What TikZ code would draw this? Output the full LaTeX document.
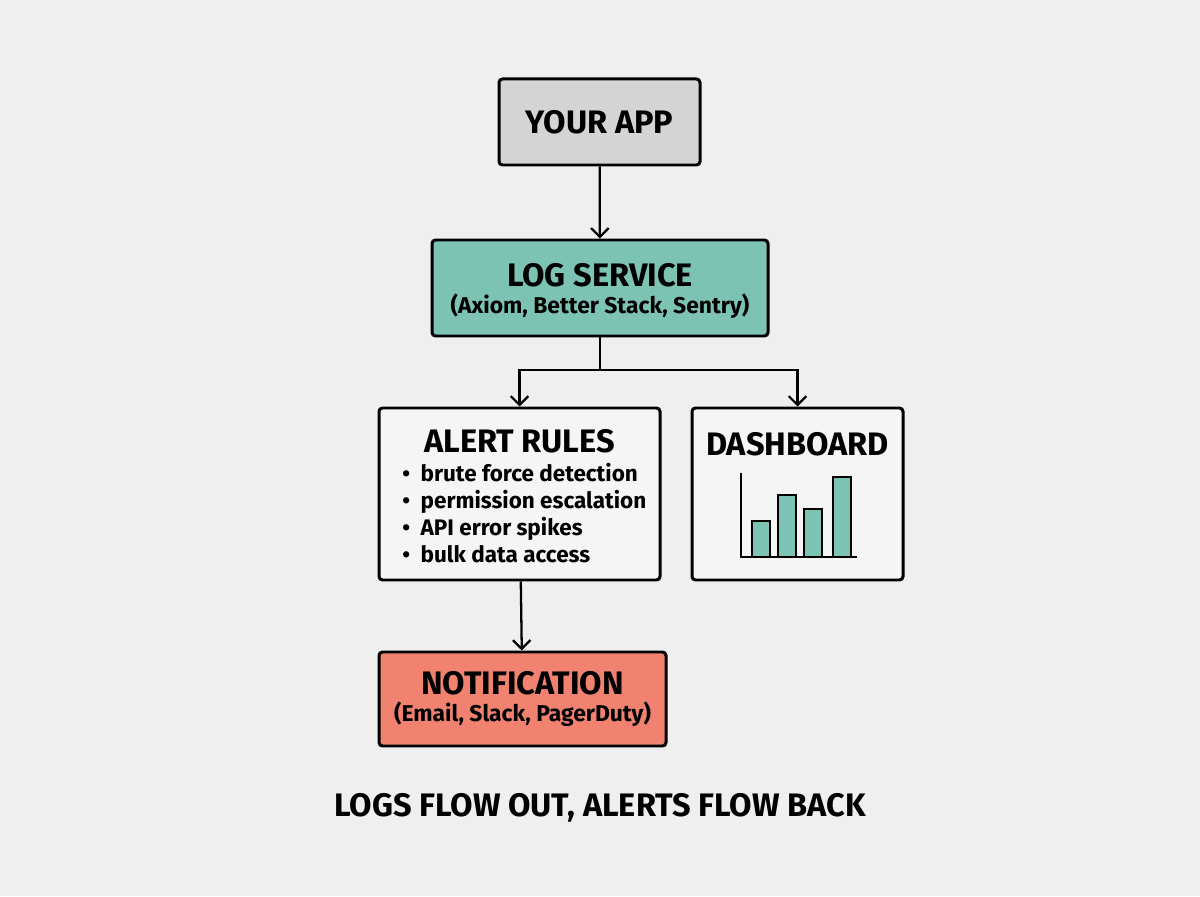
\documentclass[tikz,border=0pt]{standalone}
\usepackage{fontspec}
\setmainfont{Fira Sans}
\usetikzlibrary{arrows.meta}
\definecolor{paper}{HTML}{EFEFEF}
\definecolor{appgray}{HTML}{D4D4D4}
\definecolor{logteal}{HTML}{7DC3B4}
\definecolor{alertred}{HTML}{F0826F}
\definecolor{boxwhite}{HTML}{F5F5F5}
\tikzset{
  stagebox/.style={draw=black, line width=1.7pt, rounded corners=2pt, inner sep=0pt, align=center},
  flow/.style={line width=1.3pt, -{Straight Barb[length=5pt, width=10pt, line width=1.3pt]}},
  bigtxt/.style={font=\fontsize{18.5}{20}\selectfont\bfseries},
  smalltxt/.style={font=\fontsize{13}{15.3}\selectfont\bfseries}
}
\begin{document}
\begin{tikzpicture}
  \fill[paper] (0, 0) rectangle (24, 17.92);
  \useasboundingbox (0, 0) rectangle (24, 17.92);
  % boxes
  \node[stagebox, fill=appgray, minimum width=4.02cm, minimum height=1.72cm, bigtxt] (app) at (11.99, 15.48) {YOUR APP};
  \node[stagebox, fill=logteal, minimum width=6.72cm, minimum height=1.92cm] (log) at (12.0, 12.16) {};
  \node[bigtxt] (logtitle) at (12.0, 12.42) {LOG SERVICE};
  \node[smalltxt] (logsub) at (12.0, 11.8) {(Axiom, Better Stack, Sentry)};
  \node[stagebox, fill=boxwhite, minimum width=5.62cm, minimum height=3.44cm] (rules) at (10.39, 8.04) {};
  \node[bigtxt] (rulestitle) at (10.39, 9.1) {ALERT RULES};
  \node[smalltxt, font=\fontsize{12.8}{15.3}\selectfont\bfseries, anchor=west, align=left, inner sep=0] (ruleslist) at (8.04, 7.66)
    {•\hspace{6pt}brute force detection\\•\hspace{6pt}permission escalation\\•\hspace{6pt}API error spikes\\•\hspace{6pt}bulk data access};
  \node[stagebox, fill=boxwhite, minimum width=4.22cm, minimum height=3.44cm] (dash) at (15.95, 8.04) {};
  \node[bigtxt] (dashtitle) at (15.95, 9.04) {DASHBOARD};
  \node[stagebox, fill=alertred, minimum width=5.74cm, minimum height=1.88cm] (notif) at (10.45, 3.94) {};
  \node[bigtxt] (notiftitle) at (10.45, 4.25) {NOTIFICATION};
  \node[smalltxt] (notifsub) at (10.45, 3.64) {(Email, Slack, PagerDuty)};
  % chart
  \foreach \bx/\btop in {15.04/7.5, 15.56/8.02, 16.08/7.74, 16.66/8.38}
    \draw[fill=logteal, line width=1.3pt, draw=black] (\bx, 6.78) rectangle ++(0.36, \btop-6.78);
  \draw[line width=1.3pt] (14.82, 8.46) -- (14.82, 6.78) -- (17.14, 6.78);
  % connectors
  \coordinate (split) at (12.0, 10.52);
  \draw[flow] (app) -- (log);
  \draw[line width=1.3pt] (log.south) -- (split);
  \draw[flow] (split) -| (rules.north);
  \draw[flow] (split) -| (dash.north);
  \draw[flow] (rules) -- (notif);
  \node[bigtxt] (caption) at (12.0, 1.76) {LOGS FLOW OUT, ALERTS FLOW BACK};
\end{tikzpicture}
\end{document}
